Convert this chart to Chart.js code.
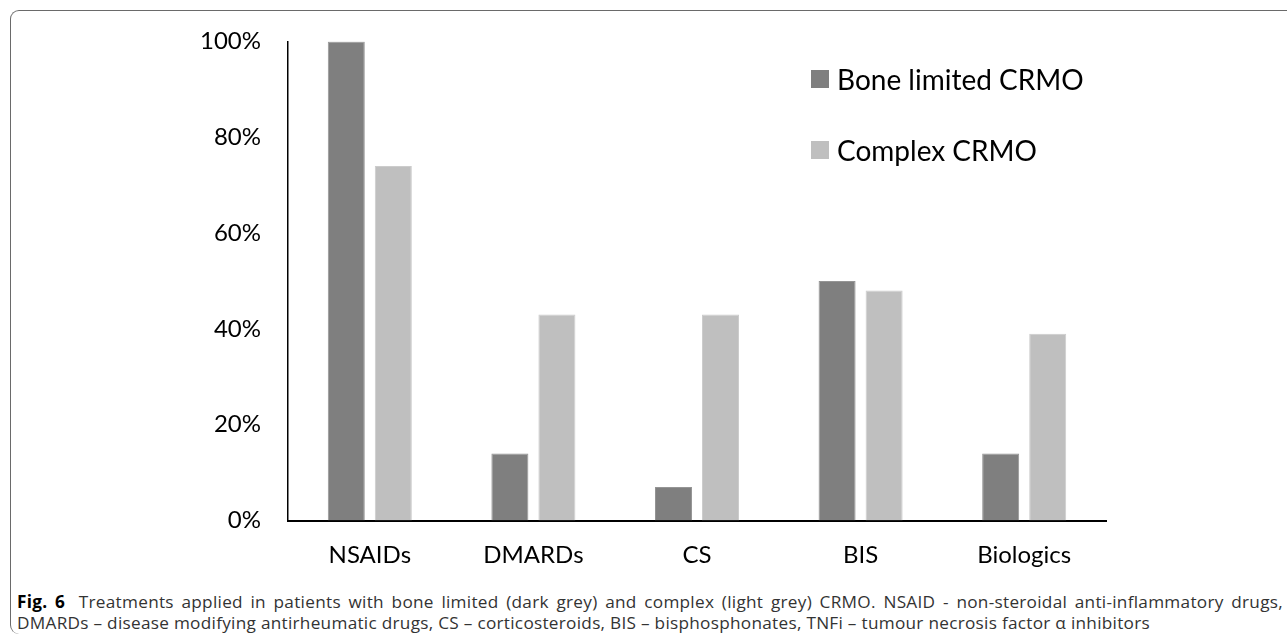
<!DOCTYPE html>
<html>
<head>
<meta charset="utf-8">
<script src="https://cdn.jsdelivr.net/npm/chart.js@4/dist/chart.umd.min.js"></script>
<style>
  html, body { margin: 0; padding: 0; background: #fff; }
  body { width: 1287px; height: 638px; position: relative; overflow: hidden; }
  #frame { position: absolute; left: 10px; top: 10px; width: 1300px; height: 624px;
           border-top: 1.5px solid #6a6a6a; border-left: 1.5px solid #6a6a6a;
           border-top-left-radius: 9px; border-bottom-left-radius: 9px; box-sizing: border-box; }
  #wrap { position: absolute; left: 0; top: 0; width: 1287px; height: 580px; }
  #legend { position: absolute; left: 811px; top: 58px; font-family: Lato, sans-serif; font-size: 28px; color: #000; }
  .item { display: flex; align-items: center; height: 42px; margin-bottom: 29px; }
  .sw { width: 18px; height: 18px; margin-right: 8px; }
  #caption { position: absolute; left: 17px; top: 591px; font-family: "Open Sans", sans-serif; font-size: 17.2px;
             line-height: 21px; color: #333; white-space: nowrap; }
  #caption b { color: #000; margin-right: 6px; }
  .ln { display: block; }
</style>
</head>
<body>
<div id="frame"></div>
<div id="wrap"><canvas id="c" width="1287" height="580"></canvas></div>
<div id="legend"></div>
<div id="caption"><span class="ln" id="l1"><b>Fig. 6</b> Treatments applied in patients with bone limited (dark grey) and complex (light grey) CRMO. NSAID - non-steroidal anti-inflammatory drugs,</span><span class="ln" id="l2">DMARDs – disease modifying antirheumatic drugs, CS – corticosteroids, BIS – bisphosphonates, TNFi – tumour necrosis factor α inhibitors</span></div>
<script>
const categories = ["NSAIDs", "DMARDs", "CS", "BIS", "Biologics"];
const boneLimited = [100, 14, 7, 50, 14];
const complexCRMO = [74, 43, 43, 48, 39];
const yTicks = [0, 20, 40, 60, 80, 100];
const seriesNames = ["Bone limited CRMO", "Complex CRMO"];
const seriesColors = ["#7f7f7f", "#bfbfbf"];
const seriesEdges = ["#959595", "#cccccc"];

const chart = new Chart(document.getElementById('c'), {
  type: 'bar',
  data: {
    labels: categories,
    datasets: [
      { label: seriesNames[0], data: boneLimited, backgroundColor: seriesColors[0],
        borderColor: seriesEdges[0], borderWidth: 1,
        categoryPercentage: 0.575, barPercentage: 0.787 },
      { label: seriesNames[1], data: complexCRMO, backgroundColor: seriesColors[1],
        borderColor: seriesEdges[1], borderWidth: 1,
        categoryPercentage: 0.575, barPercentage: 0.787 }
    ]
  },
  options: {
    responsive: false,
    animation: false,
    layout: { padding: { left: 0, right: 181, top: 38, bottom: 0 } },
    plugins: { legend: { display: false }, tooltip: { enabled: false } },
    scales: {
      x: {
        grid: { display: false, drawTicks: false },
        border: { color: '#000', width: 2 },
        ticks: { color: '#000', font: { family: 'Lato', size: 24 }, padding: 20 },
        afterFit: (s) => { s.height = 59.5; }
      },
      y: {
        min: 0, max: 100,
        afterBuildTicks: (s) => { s.ticks = yTicks.map(v => ({ value: v })); },
        grid: { display: false, drawTicks: false },
        border: { color: '#000', width: 1.5 },
        ticks: { color: '#000', font: { family: 'Lato', size: 24 }, padding: 27,
                 callback: (v) => v + '%' },
        afterFit: (s) => { s.width = 288; }
      }
    }
  }
});

const lg = document.getElementById('legend');
chart.data.datasets.forEach(ds => {
  const d = document.createElement('div'); d.className = 'item';
  const sw = document.createElement('span'); sw.className = 'sw'; sw.style.background = ds.backgroundColor;
  const t = document.createElement('span'); t.textContent = ds.label;
  d.appendChild(sw); d.appendChild(t); lg.appendChild(d);
});

// line 2 at its natural width, line 1 justified across the full width (word spacing)
(function fitCaption() {
  const cap = document.getElementById('caption');
  const l1 = document.getElementById('l1');
  const l2 = document.getElementById('l2');
  l1.style.display = 'inline-block';
  l2.style.display = 'inline-block';
  const w2 = l2.getBoundingClientRect().width;
  const ls = (1133 - w2) / l2.textContent.length;
  cap.style.letterSpacing = ls + 'px';
  const w1 = l1.getBoundingClientRect().width;
  const spaces = (l1.textContent.match(/ /g) || []).length;
  l1.style.wordSpacing = ((1266 - w1) / spaces) + 'px';
  l1.style.display = 'block';
  l2.style.display = 'block';
})();
</script>
</body>
</html>
